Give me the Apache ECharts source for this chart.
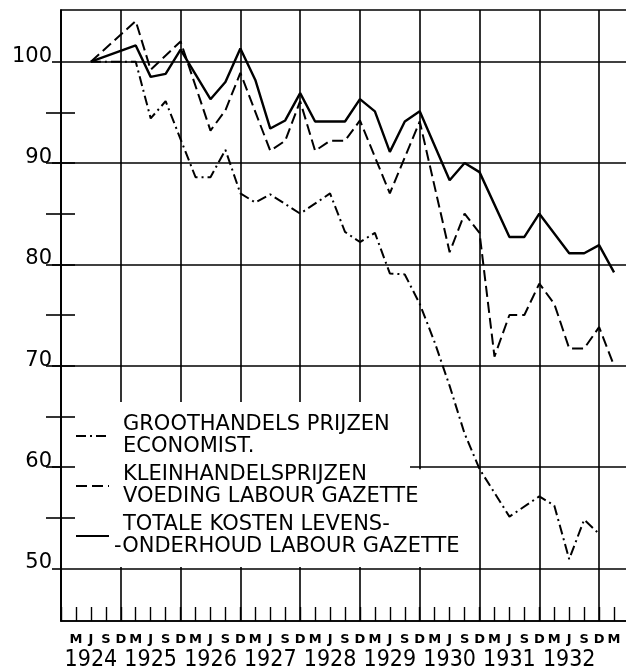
<!DOCTYPE html>
<html><head><meta charset="utf-8">
<script src="https://cdn.jsdelivr.net/npm/echarts@6/dist/echarts.min.js"></script>
<style>html,body{margin:0;padding:0;background:#fff}#c{width:626px;height:671px}</style>
</head><body><div id="c"></div>
<script>
// quarter index 0 = D 1923, 1 = M 1924, ... 37 = M 1933
const quarterLabels = ['',
  'M','J','S','D','M','J','S','D','M','J','S','D',
  'M','J','S','D','M','J','S','D','M','J','S','D',
  'M','J','S','D','M','J','S','D','M','J','S','D',
  'M'];
const yearLabels = ['1924','1925','1926','1927','1928','1929','1930','1931','1932'];
const yTickValues = [50, 60, 70, 80, 90, 100];
const minorTickValues = [55, 60, 65, 70, 75, 80, 85, 90, 95];

const seriesNames = [
  'GROOTHANDELS PRĲZEN\nECONOMIST.',
  'KLEINHANDELSPRĲZEN\nVOEDING LABOUR GAZETTE',
  'TOTALE KOSTEN LEVENS-\n-ONDERHOUD LABOUR GAZETTE'
];

// values per quarter (null = no vertex drawn at that quarter)
const groothandel = [null,null,100,null,null,100,94.4,96.1,null,88.6,88.6,91.3,87.0,86.1,86.9,null,85.0,null,87.0,83.2,82.2,83.1,79.1,79.0,76.1,72.3,68.0,63.3,59.8,null,55.1,null,57.1,56.2,50.9,54.8,53.4,null];
const kleinhandel = [null,null,100,null,null,104.0,99.2,null,102.0,null,93.2,95.2,98.9,null,91.2,92.2,96.1,91.2,92.2,92.2,94.2,null,87.0,null,94.1,null,81.2,85.0,83.1,70.9,75.0,75.0,78.1,76.1,71.7,71.7,73.8,70.0];
const totale = [null,null,100,null,null,101.6,98.5,98.8,101.2,null,96.3,98.0,101.3,98.2,93.4,94.2,96.9,94.1,null,94.1,96.3,95.1,91.1,94.1,95.1,null,88.3,90.0,89.1,null,82.7,82.7,85.0,null,81.1,81.1,81.9,79.2];

function pairs(vals){ return vals.map((v,i)=>[i,v]).filter(p=>p[1]!==null); }

const BLACK = '#000';
const lineW = 1.6;
const chart = echarts.init(document.getElementById('c'), null, {renderer:'canvas'});

const yBase = {type:'value', min:44.8, max:105.1};
const xBase = {type:'value', min:0, max:38, position:'bottom'};
const legendFont = {fontSize:21, lineHeight:22, color:BLACK, fontFamily:'DejaVu Sans'};

chart.setOption({
  animation:false,
  backgroundColor:'#fff',
  grid:{left:61, right:-3, top:10, bottom:50, show:true, borderColor:BLACK, borderWidth:lineW,
        backgroundColor:'transparent', containLabel:false, outerBoundsMode:'none'},
  xAxis:[
    Object.assign({}, xBase, {interval:4,
      axisLine:{show:true, lineStyle:{color:BLACK, width:lineW}},
      axisTick:{show:false}, axisLabel:{show:false},
      splitLine:{show:true, lineStyle:{color:BLACK, width:lineW}}}),
    Object.assign({}, xBase, {interval:1,
      axisLine:{show:false},
      axisTick:{show:true, inside:true, length:14, lineStyle:{color:BLACK, width:1.4}},
      axisLabel:{formatter:v=>quarterLabels[v]||'', margin:12, fontSize:13, fontWeight:'bold', color:BLACK, fontFamily:'DejaVu Sans'},
      splitLine:{show:false}}),
    Object.assign({}, xBase, {interval:1,
      axisLine:{show:false}, axisTick:{show:false},
      axisLabel:{formatter:v=>(v%4===2 && v<=34)?yearLabels[(v-2)/4]:'', margin:28, fontSize:23, color:BLACK,
        fontFamily:"'DejaVu Sans Condensed','DejaVu Sans',sans-serif"},
      splitLine:{show:false}})
  ],
  yAxis:[
    Object.assign({}, yBase, {position:'left',
      axisLine:{show:true, lineStyle:{color:BLACK, width:lineW}},
      axisTick:{show:true, inside:false, length:9, customValues:yTickValues, lineStyle:{color:BLACK, width:lineW}},
      axisLabel:{customValues:yTickValues, margin:9, fontSize:21, fontFamily:'DejaVu Sans', color:BLACK, verticalAlign:'bottom', lineHeight:11},
      splitLine:{show:true, lineStyle:{color:BLACK, width:lineW}}}),
    Object.assign({}, yBase, {position:'left', z:3,
      axisLine:{show:false},
      axisTick:{show:true, inside:true, length:14, customValues:minorTickValues, lineStyle:{color:BLACK, width:lineW}},
      axisLabel:{show:false}, splitLine:{show:false}}),
    Object.assign({}, yBase, {position:'right', z:3,
      axisLine:{show:false},
      axisTick:{show:true, inside:true, length:15, customValues:minorTickValues, lineStyle:{color:BLACK, width:lineW}},
      axisLabel:{show:false}, splitLine:{show:false}})
  ],
  graphic:[
    {type:'rect', z:1, shape:{x:62, y:402, width:348, height:165}, style:{fill:'#fff'}},
    {type:'rect', z:1, shape:{x:409, y:469.2, width:69, height:97.8}, style:{fill:'#fff'}}
  ],
  legend:{
    orient:'vertical', left:75, top:414, padding:0, itemGap:6, itemWidth:33, itemHeight:14,
    selectedMode:false,
    itemStyle:{opacity:0},
    formatter:name=>name.split('\n').map(l=>l.charAt(0)==='-' ? '{h|'+l+'}' : '{p|'+l+'}').join('\n'),
    textStyle:Object.assign({}, legendFont, {
      rich:{
        p:Object.assign({}, legendFont, {padding:[0,0,0,9]}),
        h:Object.assign({}, legendFont)
      }
    }),
    data:seriesNames
  },
  series:[
    {name:seriesNames[0], type:'line', symbol:'none', data:pairs(groothandel), z:2,
     itemStyle:{color:BLACK, opacity:0},
     lineStyle:{color:BLACK, width:2, type:[10,4,2,4]}},
    {name:seriesNames[1], type:'line', symbol:'none', data:pairs(kleinhandel), z:2,
     itemStyle:{color:BLACK, opacity:0},
     lineStyle:{color:BLACK, width:2, type:[11,5]}},
    {name:seriesNames[2], type:'line', symbol:'none', data:pairs(totale), z:2,
     itemStyle:{color:BLACK, opacity:0},
     lineStyle:{color:BLACK, width:2.4, type:'solid'}}
  ]
});
</script></body></html>
